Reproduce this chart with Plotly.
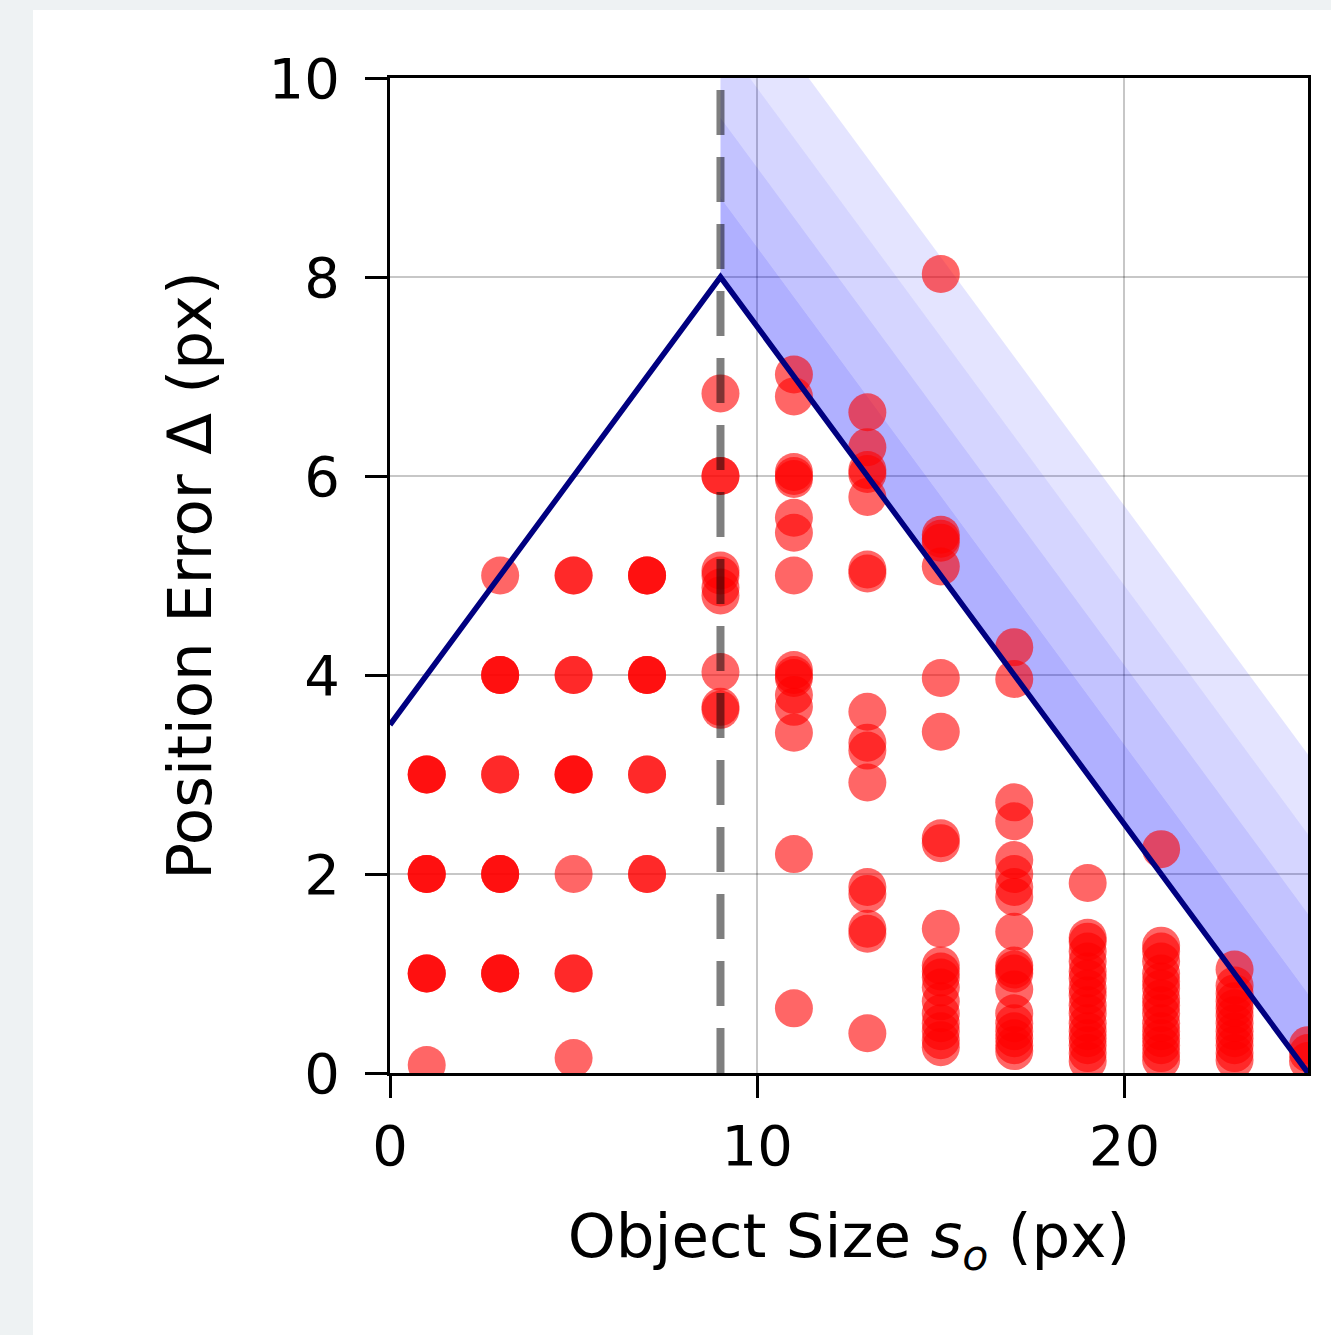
import plotly.graph_objects as go

# ---------------- data ----------------
object_sizes = [1, 3, 5, 7, 9, 11, 13, 15, 17, 19, 21, 23, 25]

err_s1 = [3.0, 3.0, 3.0, 2.0, 2.0, 2.0, 1.0, 1.0, 1.0, 0.08]
err_s3 = [5.0, 4.0, 4.0, 4.0, 3.0, 3.0, 2.0, 2.0, 2.0, 1.0, 1.0, 1.0]
err_s5 = [5.0, 5.0, 4.0, 4.0, 3.0, 3.0, 3.0, 2.0, 1.0, 1.0, 0.15]
err_s7 = [5.0, 5.0, 5.0, 4.0, 4.0, 4.0, 3.0, 3.0, 2.0, 2.0]
err_s9 = [6.83, 6.0, 6.0, 5.05, 5.0, 4.88, 4.8, 4.03, 3.68, 3.65]
err_s11 = [7.02, 6.8, 6.04, 6.0, 5.97, 5.58, 5.43, 5.0, 4.05, 4.0, 3.97,
           3.8, 3.68, 3.42, 2.2, 0.65]
err_s13 = [6.64, 6.29, 6.06, 6.02, 5.79, 5.06, 5.02, 3.63, 3.32, 3.24, 2.92,
           1.87, 1.8, 1.45, 1.4, 0.4]
err_s15 = [8.03, 5.41, 5.37, 5.33, 5.09, 3.97, 3.43, 2.36, 2.31, 1.45, 1.08,
           1.02, 0.96, 0.86, 0.72, 0.6, 0.5, 0.42, 0.33, 0.26]
err_s17 = [4.28, 3.96, 2.72, 2.53, 2.14, 2.0, 1.87, 1.77, 1.42, 1.08, 1.04,
           1.0, 0.84, 0.6, 0.5, 0.42, 0.35, 0.28, 0.22]
err_s19 = [1.91, 1.36, 1.32, 1.22, 1.12, 1.02, 0.95, 0.85, 0.78, 0.68, 0.6,
           0.5, 0.42, 0.35, 0.28, 0.2, 0.12]
err_s21 = [2.25, 1.28, 1.22, 1.12, 1.0, 0.92, 0.85, 0.75, 0.68, 0.6, 0.5,
           0.42, 0.35, 0.28, 0.2, 0.13]
err_s23 = [1.04, 0.88, 0.8, 0.72, 0.65, 0.58, 0.5, 0.42, 0.35, 0.28, 0.2, 0.13]
err_s25 = [0.28, 0.2, 0.12]

errors_by_size = [err_s1, err_s3, err_s5, err_s7, err_s9, err_s11, err_s13,
                  err_s15, err_s17, err_s19, err_s21, err_s23, err_s25]

# theoretical bound (piecewise linear)
bound_sizes = [0, 9, 25]
bound_errors = [3.5, 8.0, 0.0]
threshold_size = 9

# shaded bands above the descending bound
band_offsets = [0.0, 0.8, 1.6, 2.4, 3.2]
band_alphas = [0.31, 0.235, 0.165, 0.105]

x_ticks = [0, 10, 20]
y_ticks = [0, 2, 4, 6, 8, 10]

# ---------------- figure ----------------
FONT = "DejaVu Sans"
fig = go.Figure()

# bands (drawn first)
bx0, bx1 = bound_sizes[1], bound_sizes[2]
by0, by1 = bound_errors[1], bound_errors[2]
for i, a in enumerate(band_alphas):
    lo, hi = band_offsets[i], band_offsets[i + 1]
    fig.add_trace(go.Scatter(
        x=[bx0, bx1, bx1, bx0, bx0],
        y=[by0 + lo, by1 + lo, by1 + hi, by0 + hi, by0 + lo],
        fill="toself", fillcolor=f"rgba(0,0,255,{a})",
        line=dict(width=0), mode="lines", hoverinfo="skip", showlegend=False))

# scatter points
xs, ys = [], []
for s, errs in zip(object_sizes, errors_by_size):
    for e in errs:
        xs.append(s)
        ys.append(e)
fig.add_trace(go.Scatter(
    x=xs, y=ys, mode="markers",
    marker=dict(color="red", size=38, opacity=0.6, line=dict(width=0)),
    showlegend=False))

# vertical dashed threshold line
fig.add_trace(go.Scatter(
    x=[threshold_size, threshold_size], y=[y_ticks[0], y_ticks[-1]],
    mode="lines", line=dict(color="rgba(0,0,0,0.5)", width=8, dash="45px,22px"),
    showlegend=False, hoverinfo="skip"))

# bound line
fig.add_trace(go.Scatter(
    x=bound_sizes, y=bound_errors, mode="lines",
    line=dict(color="#000080", width=5.5), showlegend=False))

W, H = 1331, 1335
ml, mr, mt, mb = 390, 23, 78, 262
pw, ph = W - ml - mr, H - mt - mb

# outer light border emulation: white figure area
fig.add_shape(type="rect", xref="paper", yref="paper", layer="below",
              x0=(33 - ml) / pw, x1=(W - ml) / pw,
              y0=-(mb) / ph, y1=1 + (mt - 10) / ph,
              fillcolor="white", line=dict(width=0))

axis_common = dict(
    showgrid=True, gridcolor="rgba(0,0,0,0.22)", gridwidth=2,
    showline=True, linecolor="black", linewidth=3, mirror=True,
    ticks="outside", ticklen=22, tickwidth=3, tickcolor="black",
    tickfont=dict(family=FONT, size=56, color="black"),
    zeroline=False,
)

fig.update_layout(
    width=W, height=H,
    margin=dict(l=ml, r=mr, t=mt, b=mb, pad=0),
    paper_bgcolor="#EEF2F3", plot_bgcolor="white",
    xaxis=dict(range=[0, 25], tickvals=x_ticks, **axis_common,
               title=dict(text="Object Size <i>s</i><sub><i>o</i></sub> (px)",
                          font=dict(family=FONT, size=61, color="black"),
                          standoff=38)),
    yaxis=dict(range=[0, 10], tickvals=y_ticks, **axis_common,
               ticklabelstandoff=14,
               title=dict(text="Position Error Δ (px)",
                          font=dict(family=FONT, size=61, color="black"),
                          standoff=38)),
)

fig.write_html("out.html")
